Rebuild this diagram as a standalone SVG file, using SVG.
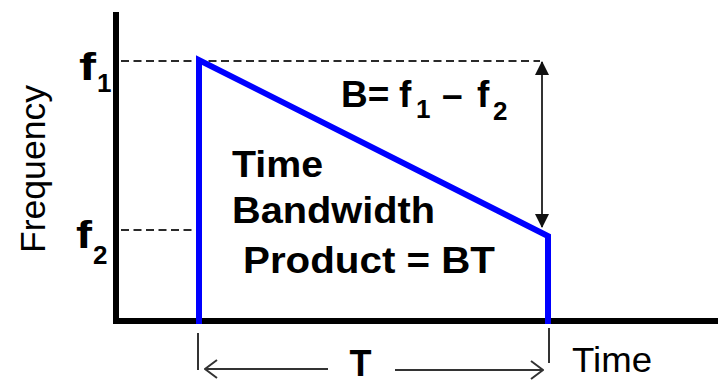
<svg xmlns="http://www.w3.org/2000/svg" width="724" height="383" viewBox="0 0 724 383">
<style>
.ax{stroke:#000;stroke-width:6;fill:none}
.sig{stroke:#0000ff;stroke-width:6;fill:none;stroke-linejoin:miter}
.dash{stroke:#2a2a2a;stroke-width:2.2;stroke-dasharray:8 4.5;fill:none}
.thin{stroke:#333;stroke-width:2;fill:none}
.b{font-family:"Liberation Sans",Arial,sans-serif;font-weight:bold;fill:#000}
.r{font-family:"Liberation Sans",Arial,sans-serif;fill:#000}
</style>
<defs>
<marker id="tri" viewBox="0 0 14 14" refX="13" refY="7" markerWidth="14" markerHeight="14" markerUnits="userSpaceOnUse" orient="auto-start-reverse">
<path d="M0,0 L14,7 L0,14 z" fill="#111"/>
</marker>
<marker id="chev" viewBox="0 0 14 20" refX="13" refY="10" markerWidth="14" markerHeight="20" markerUnits="userSpaceOnUse" orient="auto-start-reverse">
<path d="M1,1 L13,10 L1,19" fill="none" stroke="#333" stroke-width="2"/>
</marker>
</defs>
<g id="axes">
<line class="ax" x1="116" y1="12" x2="116" y2="324"/>
<line class="ax" x1="113" y1="321" x2="718" y2="321"/>
</g>
<g id="guides">
<line class="dash" x1="121" y1="61" x2="540" y2="61"/>
<line class="dash" x1="121" y1="230" x2="196" y2="230"/>
</g>
<g id="signal">
<path class="sig" d="M199,324 L199,60 L548,236 L548,324"/>
</g>
<g id="connectors">
<line class="thin" x1="542" y1="62" x2="542" y2="227" marker-start="url(#tri)" marker-end="url(#tri)"/>
<line class="thin" x1="198" y1="333" x2="198" y2="370"/>
<line class="thin" x1="549" y1="328" x2="549" y2="363"/>
<line class="thin" x1="328" y1="369" x2="205" y2="369" marker-end="url(#chev)"/>
<line class="thin" x1="395" y1="370" x2="543" y2="370" marker-end="url(#chev)"/>
</g>
<g id="labels">
<text class="r" font-size="35" transform="translate(45,253) rotate(-90)" textLength="168" lengthAdjust="spacingAndGlyphs">Frequency</text>
<text class="b" font-size="39" x="79" y="80" textLength="17" lengthAdjust="spacingAndGlyphs">f</text>
<text class="b" font-size="26" x="97" y="92">1</text>
<text class="b" font-size="39" x="76" y="248" textLength="16" lengthAdjust="spacingAndGlyphs">f</text>
<text class="b" font-size="26" x="93" y="264">2</text>
<text class="b" font-size="37" x="341" y="107">B=</text>
<text class="b" font-size="37" x="399" y="107">f</text>
<text class="b" font-size="26" x="416" y="118">1</text>
<text class="b" font-size="37" x="442" y="107">–</text>
<text class="b" font-size="37" x="477" y="107">f</text>
<text class="b" font-size="26" x="493" y="120">2</text>
<text class="b" font-size="36" x="232" y="177" textLength="91" lengthAdjust="spacingAndGlyphs">Time</text>
<text class="b" font-size="36" x="232" y="223" textLength="203" lengthAdjust="spacingAndGlyphs">Bandwidth</text>
<text class="b" font-size="36" x="243" y="273" textLength="252" lengthAdjust="spacingAndGlyphs">Product = BT</text>
<text class="b" font-size="36" x="360.5" y="376" text-anchor="middle">T</text>
<text class="r" font-size="35" x="572" y="372" textLength="80" lengthAdjust="spacingAndGlyphs">Time</text>
</g>
</svg>
